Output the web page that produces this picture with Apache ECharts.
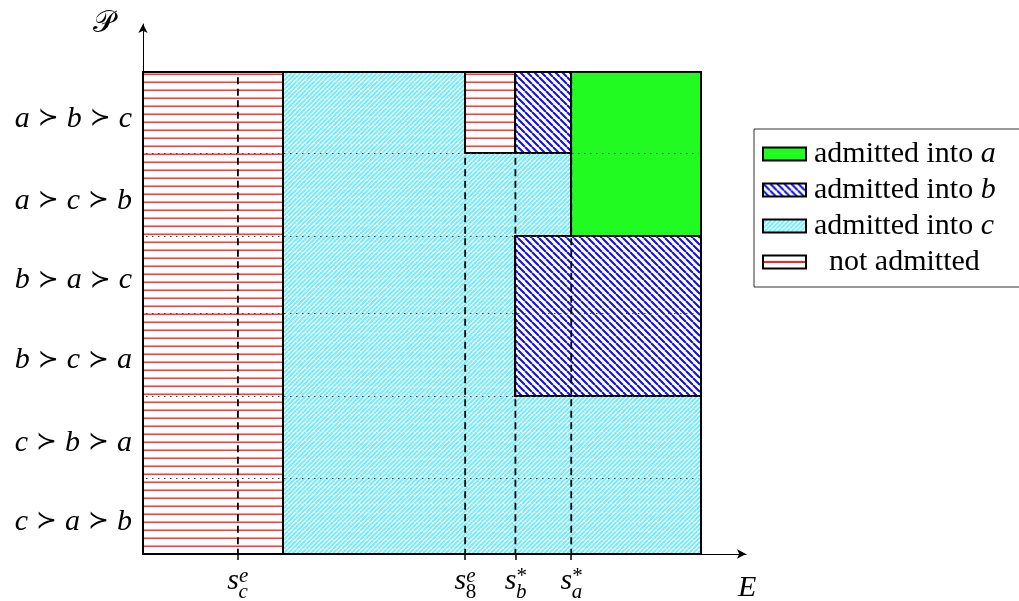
<!DOCTYPE html>
<html>
<head>
<meta charset="utf-8">
<script src="https://cdn.jsdelivr.net/npm/echarts@6/dist/echarts.min.js"></script>
<style>
  html, body { margin: 0; padding: 0; background: #fff; }
  #chart { width: 1019px; height: 601px; }
</style>
</head>
<body>
<div id="chart"></div>
<script>
// Preference profiles, listed bottom to top along the vertical axis
const rows = ['c ≻ a ≻ b', 'c ≻ b ≻ a', 'b ≻ c ≻ a', 'b ≻ a ≻ c', 'a ≻ c ≻ b', 'a ≻ b ≻ c'];
// Row boundaries on the vertical axis
const rowEdges = [0, 0.95, 1.97, 3.0, 3.96, 4.99, 6];

// Score cutoffs on the E axis and their labels
const cutoffValues = [17, 57.7, 66.7, 76.7];
const cutoffSup = ['e', 'e', '*', '*'];
const cutoffSub = ['c', '8', 'b', 'a'];
const subItalic = [true, false, true, true];

// Score range shown, axis extent and the exclusion threshold
const scoreMax = 100;
const xAxisMax = 108;
const yAxisMax = 6.6;
const exclusionEdge = 25;

// Outcome regions: [score from, score to, first row edge index, last row edge index]
const regionsNotAdmitted = [[0, exclusionEdge, 0, 6], [57.7, 66.7, 5, 6]];
const regionsIntoC = [[exclusionEdge, 57.7, 0, 6], [57.7, 66.7, 0, 5], [66.7, 76.7, 4, 5], [66.7, 100, 0, 2]];
const regionsIntoB = [[66.7, 76.7, 5, 6], [66.7, 100, 2, 4]];
const regionsIntoA = [[76.7, 100, 4, 6]];

const SERIF = '"Liberation Serif", "DejaVu Serif", serif';

function toRects(list) {
  return list.map(r => [r[0], r[1], rowEdges[r[2]], rowEdges[r[3]]]);
}

// ---- fill patterns ----
function diagonalHatch(size, spacing, color, width, rising) {
  const c = document.createElement('canvas');
  c.width = c.height = size;
  const g = c.getContext('2d');
  g.fillStyle = '#ffffff';
  g.fillRect(0, 0, size, size);
  g.strokeStyle = color;
  g.lineWidth = width;
  g.beginPath();
  for (let o = -size; o <= 2 * size; o += spacing) {
    if (rising) { g.moveTo(o, size); g.lineTo(o + size, 0); }
    else { g.moveTo(o, 0); g.lineTo(o + size, size); }
  }
  g.stroke();
  return { image: c, repeat: 'repeat' };
}
function horizontalHatch(size) {
  const c = document.createElement('canvas');
  c.width = c.height = size;
  const g = c.getContext('2d');
  g.fillStyle = '#ffffff';
  g.fillRect(0, 0, size, size);
  g.fillStyle = '#ff9a9a';
  g.fillRect(0, 1, size, 1);
  g.fillStyle = '#ff3636';
  g.fillRect(0, 2, size, 1);
  return { image: c, repeat: 'repeat' };
}

const fillNotAdmitted = horizontalHatch(8);
const fillIntoC = diagonalHatch(9, 4.5, '#74ecfb', 2, true);
const fillIntoB = diagonalHatch(7, 7, '#1414de', 2.1, false);
const fillIntoA = '#22fb22';

// legend swatch for "not admitted": a single red rule across the middle
const swatchNotAdmitted = {
  type: 'linear', x: 0, y: 0, x2: 0, y2: 1,
  colorStops: [
    { offset: 0, color: '#ffffff' }, { offset: 0.44, color: '#ffffff' },
    { offset: 0.44, color: '#ff2020' }, { offset: 0.56, color: '#ff2020' },
    { offset: 0.56, color: '#ffffff' }, { offset: 1, color: '#ffffff' }
  ]
};

function rectRenderer(fill, stroked) {
  return function (params, api) {
    const p0 = api.coord([api.value(0), api.value(3)]);
    const p1 = api.coord([api.value(1), api.value(2)]);
    const x = Math.round(p0[0]), y = Math.round(p0[1]);
    return {
      type: 'rect',
      shape: { x: x, y: y, width: Math.round(p1[0]) - x, height: Math.round(p1[1]) - y },
      style: { fill: fill, stroke: stroked ? '#000' : null, lineWidth: 2 }
    };
  };
}

function regionSeries(name, list, fill, stroked, z) {
  return {
    type: 'custom',
    name: name,
    z: z,
    dimensions: ['x0', 'x1', 'y0', 'y1'],
    encode: { x: [0, 1], y: [2, 3] },
    data: toRects(list),
    itemStyle: { color: fill, borderColor: '#000', borderWidth: 2 },
    renderItem: rectRenderer(fill, stroked)
  };
}

const rowCenters = rowEdges.slice(1).map((e, i) => (e + rowEdges[i]) / 2);
const innerEdges = rowEdges.slice(1, -1);

const chart = echarts.init(document.getElementById('chart'), null, { renderer: 'canvas' });

chart.setOption({
  animation: false,
  backgroundColor: '#ffffff',
  grid: { left: 143, right: 273, top: 24, bottom: 47, containLabel: false },
  legend: {
    orient: 'vertical',
    left: 754,
    top: 129,
    padding: [10, 60, 10, 8],
    borderColor: '#333',
    borderWidth: 1,
    icon: 'rect',
    itemWidth: 43,
    itemHeight: 13,
    itemGap: 6,
    itemStyle: { borderColor: '#000', borderWidth: 2 },
    data: [
      'admitted into a',
      'admitted into b',
      'admitted into c',
      { name: 'not admitted', itemStyle: { color: swatchNotAdmitted } }
    ],
    formatter: function (name) {
      if (name === 'not admitted') return '{gap|}not admitted';
      return name.slice(0, -1) + '{m|' + name.slice(-1) + '}';
    },
    textStyle: {
      fontFamily: SERIF, fontSize: 30, lineHeight: 29, color: '#000', padding: [0, 0, 0, 3],
      rich: {
        m: { fontFamily: SERIF, fontSize: 30, fontStyle: 'italic', color: '#000' },
        gap: { width: 15 }
      }
    }
  },
  xAxis: {
    type: 'value',
    min: 0,
    max: xAxisMax,
    axisLine: {
      show: true, symbol: ['none', 'arrow'], symbolSize: [7, 9],
      lineStyle: { color: '#000', width: 1 }
    },
    axisTick: {
      show: true, customValues: cutoffValues, length: 6,
      lineStyle: { color: '#000', width: 1.5 }
    },
    axisLabel: { show: false },
    splitLine: { show: false }
  },
  yAxis: {
    type: 'value',
    min: 0,
    max: yAxisMax,
    name: '𝒫',
    nameLocation: 'end',
    nameGap: 0,
    nameTextStyle: {
      fontFamily: '"DejaVu Serif", "DejaVu Sans", ' + SERIF, fontSize: 30, color: '#000',
      align: 'right', verticalAlign: 'middle', padding: [14, 28, 0, 0]
    },
    axisLine: {
      show: true, symbol: ['none', 'arrow'], symbolSize: [7, 9],
      lineStyle: { color: '#000', width: 1 }
    },
    axisTick: {
      show: true, inside: true, customValues: innerEdges, length: 5,
      lineStyle: { color: '#000', width: 2 }
    },
    axisLabel: {
      show: true,
      customValues: rowCenters,
      margin: 11,
      padding: [12, 0, 0, 0],
      formatter: function (value) {
        const i = rowCenters.findIndex(c => Math.abs(c - value) < 1e-6);
        if (i < 0) return '';
        return rows[i].split(' ≻ ').map(v => '{v|' + v + '}').join('{op|≻}');
      },
      rich: {
        v: { fontFamily: SERIF, fontSize: 30, fontStyle: 'italic', color: '#000' },
        op: { fontFamily: '"DejaVu Sans", sans-serif', fontSize: 25, color: '#000', padding: [0, 8, 0, 8] }
      }
    },
    splitLine: { show: false }
  },
  series: [
    regionSeries('admitted into c', regionsIntoC, fillIntoC, false, 2),
    regionSeries('not admitted', regionsNotAdmitted, fillNotAdmitted, true, 3),
    regionSeries('admitted into b', regionsIntoB, fillIntoB, true, 3),
    regionSeries('admitted into a', regionsIntoA, fillIntoA, true, 3),
    {
      // outer frame of the score/profile square
      type: 'custom',
      name: 'frame',
      z: 4,
      data: [[0, scoreMax, rowEdges[0], rowEdges[rowEdges.length - 1]]],
      encode: { x: [0, 1], y: [2, 3] },
      renderItem: rectRenderer(null, true)
    },
    {
      // dotted separators between preference rows
      type: 'custom',
      name: 'row separators',
      z: 5,
      data: innerEdges.map(e => [e]),
      encode: { y: 0 },
      renderItem: function (params, api) {
        const a = api.coord([0, api.value(0)]);
        const b = api.coord([scoreMax, api.value(0)]);
        const y = Math.round(a[1]) + 0.5;
        return {
          type: 'line',
          shape: { x1: a[0] + 3, y1: y, x2: b[0] - 3, y2: y },
          style: { stroke: '#444', lineWidth: 1.2, lineDash: [1.5, 4.5] }
        };
      }
    },
    {
      // dashed cutoff lines
      type: 'custom',
      name: 'cutoffs',
      z: 6,
      data: cutoffValues.map(v => [v]),
      encode: { x: 0 },
      renderItem: function (params, api) {
        const top = api.coord([api.value(0), rowEdges[rowEdges.length - 1]]);
        const bot = api.coord([api.value(0), 0]);
        return {
          type: 'line',
          shape: { x1: top[0], y1: top[1] + 5, x2: bot[0], y2: bot[1] },
          style: { stroke: '#000', lineWidth: 1.8, lineDash: [7, 4.5] }
        };
      }
    },
    {
      // cutoff names under the E axis
      type: 'custom',
      name: 'cutoff labels',
      z: 6,
      data: cutoffValues.map(v => [v]),
      encode: { x: 0 },
      renderItem: function (params, api) {
        const p = api.coord([api.value(0), 0]);
        const i = params.dataIndex;
        return {
          type: 'group',
          children: [
            {
              type: 'text', x: p[0] + 1, y: p[1] + 27,
              style: { text: 's', font: 'italic 30px ' + SERIF, fill: '#000', align: 'right', verticalAlign: 'middle' }
            },
            {
              type: 'text', x: p[0] + 1, y: p[1] + 22,
              style: {
                text: cutoffSup[i], font: (cutoffSup[i] === '*' ? '' : 'italic ') + '21px ' + SERIF,
                fill: '#000', align: 'left', verticalAlign: 'middle'
              }
            },
            {
              type: 'text', x: p[0] + 0.5, y: p[1] + 38,
              style: {
                text: cutoffSub[i], font: (subItalic[i] ? 'italic ' : '') + '21px ' + SERIF,
                fill: '#000', align: 'left', verticalAlign: 'middle'
              }
            }
          ]
        };
      }
    },
    {
      // name of the E axis, below its arrow
      type: 'custom',
      name: 'axis name',
      z: 6,
      data: [[xAxisMax, 0]],
      encode: { x: 0, y: 1 },
      renderItem: function (params, api) {
        const p = api.coord([api.value(0), api.value(1)]);
        return {
          type: 'text', x: p[0] - 8, y: p[1] + 34,
          style: { text: 'E', font: 'italic 30px ' + SERIF, fill: '#000', align: 'left', verticalAlign: 'middle' }
        };
      }
    }
  ]
});
</script>
</body>
</html>
